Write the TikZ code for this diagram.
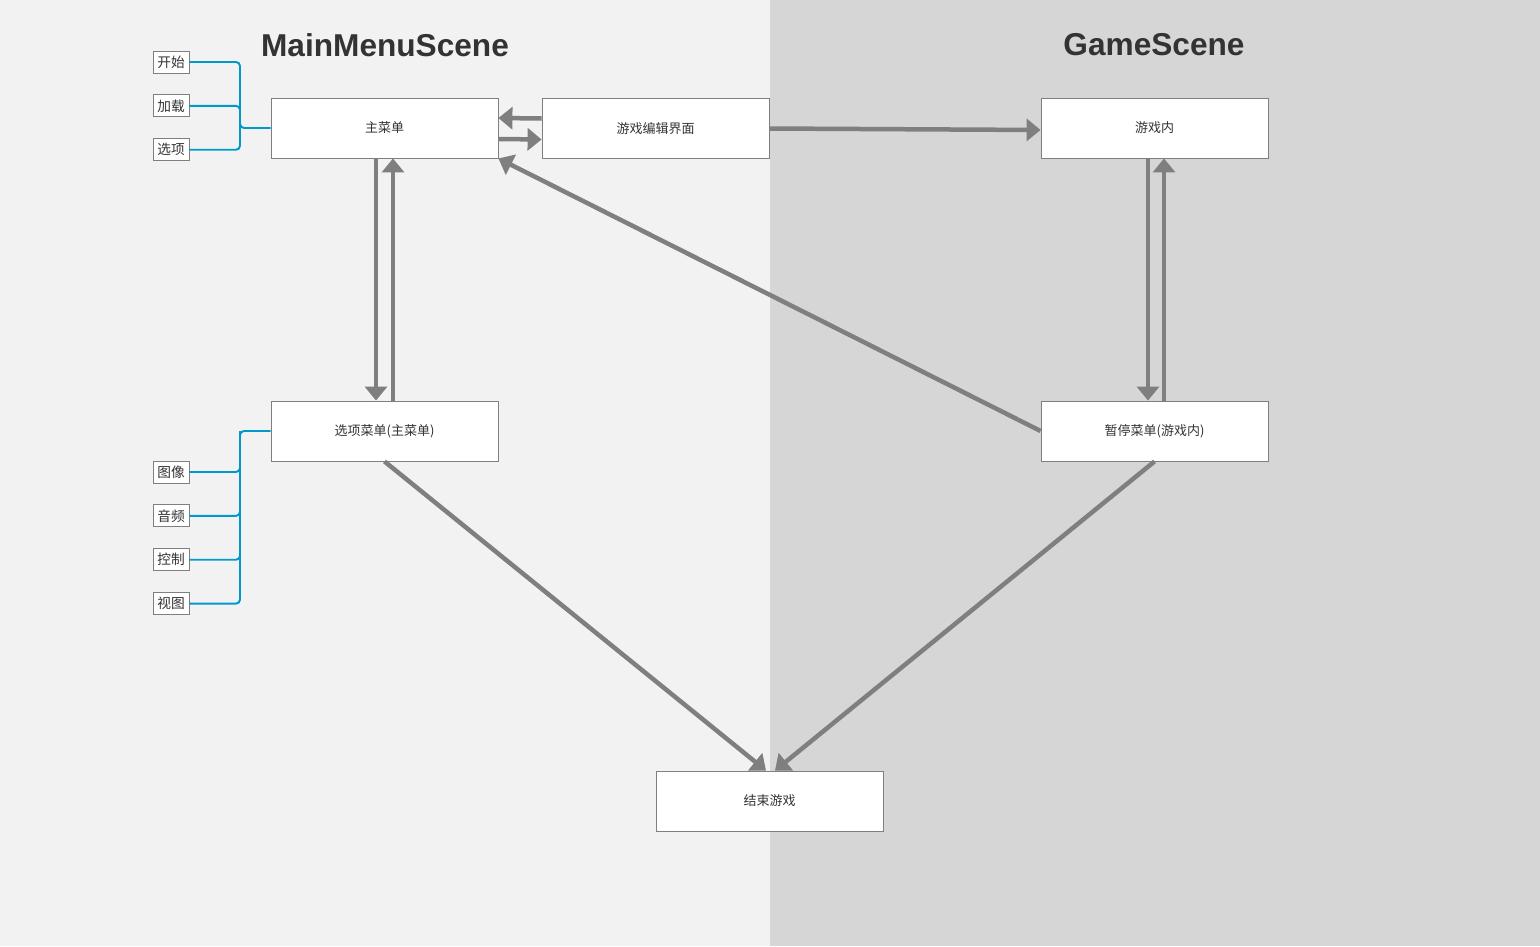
\documentclass[tikz,border=0pt]{standalone}
\usepackage{fontspec}
\setmainfont{Liberation Sans}
\newfontfamily\cjk{Noto Sans CJK SC}
\usetikzlibrary{positioning,arrows.meta}

\definecolor{bgmain}{HTML}{F2F2F2}
\definecolor{bggame}{HTML}{D6D6D6}
\definecolor{flowgrey}{HTML}{7F7F7F}
\definecolor{linkblue}{HTML}{0099CC}
\definecolor{txtdark}{HTML}{333333}

\tikzset{
  scene/.style={font=\fontsize{18}{22}\selectfont\bfseries, text=txtdark},
  menubox/.style={draw=flowgrey, fill=white, line width=0.5pt, minimum width=4.54cm,
    minimum height=1.2cm, inner sep=0pt, font=\cjk\fontsize{7.4}{9}\selectfont, text=txtdark},
  itembox/.style={draw=flowgrey, fill=white, line width=0.5pt, minimum width=0.72cm,
    minimum height=0.44cm, inner sep=0pt, font=\cjk\fontsize{7.8}{9}\selectfont, text=txtdark},
  flow/.style={draw=flowgrey, line width=0.09cm,
    -{Triangle[length=0.28cm, width=0.44cm]}},
  bracket/.style={draw=linkblue, line width=1.1pt, rounded corners=0.08cm}
}

\begin{document}
\begin{tikzpicture}[x=0.02cm, y=-0.02cm, node distance=0.42cm]
  \useasboundingbox (0,0) rectangle (1540,946);
  \fill[bgmain] (0,0) rectangle (770,946);
  \fill[bggame] (770,0) rectangle (1540,946);

  % scene titles
  \node[scene] (mainscene) at (385,45) {MainMenuScene};
  \node[scene] (gamescene) at (1154,45) {GameScene};

  % menus
  \node[menubox] (mainmenu) at (384.5,128) {主菜单};
  \node[menubox] (editor) at (655.5,128.5) {游戏编辑界面};
  \node[menubox] (ingame) at (1154.5,128) {游戏内};
  \node[menubox] (options) at (384.5,431) {选项菜单(主菜单)};
  \node[menubox] (pause) at (1154.5,431) {暂停菜单(游戏内)};
  \node[menubox] (quit) at (769.5,801) {结束游戏};

  % main menu items
  \node[itembox] (start) at (171,62) {开始};
  \node[itembox] (load) [below=of start] {加载};
  \node[itembox] (opt) [below=of load] {选项};
  \coordinate (j1) at (240,128);
  \draw[bracket] (start.east) -| (j1) -- (mainmenu.west);
  \draw[bracket] (load.east) -| (j1);
  \draw[bracket] (opt.east) -| (j1);

  % option menu items
  \node[itembox] (img) at (171,472) {图像};
  \node[itembox] (audio) [below=of img] {音频};
  \node[itembox] (ctrl) [below=of audio] {控制};
  \node[itembox] (view) [below=of ctrl] {视图};
  \coordinate (j2) at (240,431);
  \draw[bracket] (options.west) -- (j2) |- (img.east);
  \draw[bracket] (j2) |- (audio.east);
  \draw[bracket] (j2) |- (ctrl.east);
  \draw[bracket] (j2) |- (view.east);

  % transitions
  \draw[flow] ([yshift=0.2cm]editor.west) -- ([yshift=0.2cm]mainmenu.east);
  \draw[flow] ([yshift=-0.22cm]mainmenu.east) -- ([yshift=-0.22cm]editor.west);
  \draw[flow] (editor.east) -- ([yshift=-0.04cm]ingame.west);
  \draw[flow] ([xshift=-0.17cm]mainmenu.south) -- ([xshift=-0.17cm]options.north);
  \draw[flow] ([xshift=0.17cm]options.north) -- ([xshift=0.17cm]mainmenu.south);
  \draw[flow] ([xshift=-0.13cm]ingame.south) -- ([xshift=-0.13cm]pause.north);
  \draw[flow] ([xshift=0.19cm]pause.north) -- ([xshift=0.19cm]ingame.south);
  \draw[flow] (pause.west) -- (mainmenu.south east);
  \draw[flow] (options.south) -- ([xshift=-0.07cm]quit.north);
  \draw[flow] (pause.south) -- ([xshift=0.11cm]quit.north);
\end{tikzpicture}
\end{document}
